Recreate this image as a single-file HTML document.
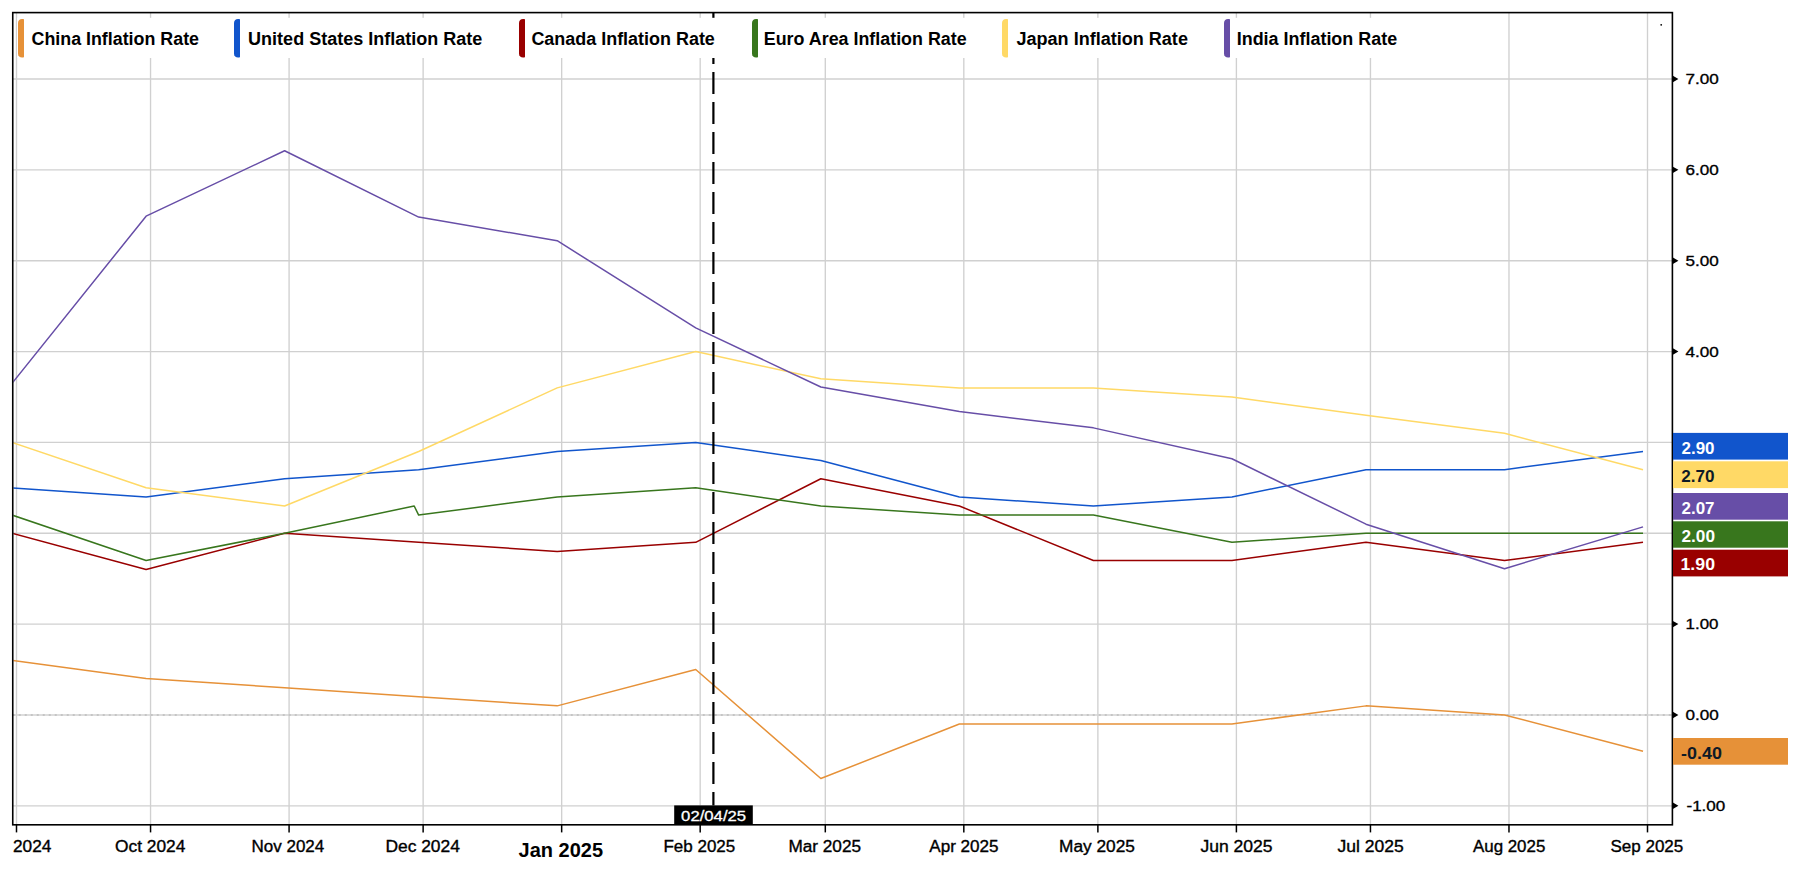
<!DOCTYPE html><html><head><meta charset="utf-8"><style>html,body{margin:0;padding:0;background:#fff;overflow:hidden;}svg{display:block;}text{font-family:"Liberation Sans",sans-serif;}</style></head><body><svg width="1800" height="877" viewBox="0 0 1800 877"><rect x="0" y="0" width="1800" height="877" fill="#fff"/><defs><clipPath id="plot"><rect x="13.4" y="13" width="1658.6" height="811.5"/></clipPath></defs><g stroke="#d0d0d0" stroke-width="1.35"><line x1="16.50" y1="12.6" x2="16.50" y2="824.8"/><line x1="150.55" y1="12.6" x2="150.55" y2="824.8"/><line x1="289.08" y1="12.6" x2="289.08" y2="824.8"/><line x1="423.13" y1="12.6" x2="423.13" y2="824.8"/><line x1="561.66" y1="12.6" x2="561.66" y2="824.8"/><line x1="700.18" y1="12.6" x2="700.18" y2="824.8"/><line x1="825.30" y1="12.6" x2="825.30" y2="824.8"/><line x1="963.82" y1="12.6" x2="963.82" y2="824.8"/><line x1="1097.88" y1="12.6" x2="1097.88" y2="824.8"/><line x1="1236.40" y1="12.6" x2="1236.40" y2="824.8"/><line x1="1370.45" y1="12.6" x2="1370.45" y2="824.8"/><line x1="1508.98" y1="12.6" x2="1508.98" y2="824.8"/><line x1="1647.50" y1="12.6" x2="1647.50" y2="824.8"/><line x1="12.75" y1="79.00" x2="1672.4" y2="79.00"/><line x1="12.75" y1="169.85" x2="1672.4" y2="169.85"/><line x1="12.75" y1="260.70" x2="1672.4" y2="260.70"/><line x1="12.75" y1="351.55" x2="1672.4" y2="351.55"/><line x1="12.75" y1="442.40" x2="1672.4" y2="442.40"/><line x1="12.75" y1="533.25" x2="1672.4" y2="533.25"/><line x1="12.75" y1="624.10" x2="1672.4" y2="624.10"/><line x1="12.75" y1="805.80" x2="1672.4" y2="805.80"/></g><line x1="12.75" y1="714.95" x2="1672.4" y2="714.95" stroke="#d2d2d2" stroke-width="1.35"/><line x1="12.75" y1="714.95" x2="1672.4" y2="714.95" stroke="#bdbdbd" stroke-width="1.35" stroke-dasharray="2,4"/><g clip-path="url(#plot)" fill="none" stroke-width="1.5" stroke-linejoin="round"><path d="M-126.49,669.53 L12.03,660.44 L146.09,678.61 L284.61,687.70 L418.66,696.78 L557.19,705.87 L695.71,669.53 L820.83,778.55 L959.35,724.04 L1093.41,724.04 L1231.93,724.04 L1365.98,705.87 L1504.51,714.95 L1643.03,751.29" stroke="#e69138"/><path d="M-126.49,451.49 L12.03,487.83 L146.09,496.91 L284.61,478.74 L418.66,469.66 L557.19,451.49 L695.71,442.40 L820.83,460.57 L959.35,496.91 L1093.41,506.00 L1231.93,496.91 L1365.98,469.66 L1504.51,469.66 L1643.03,451.49" stroke="#1155cc"/><path d="M-126.49,487.83 L12.03,533.25 L146.09,569.59 L284.61,533.25 L418.66,542.34 L557.19,551.42 L695.71,542.34 L820.83,478.74 L959.35,506.00 L1093.41,560.51 L1231.93,560.51 L1365.98,542.34 L1504.51,560.51 L1643.03,542.34" stroke="#990000"/><path d="M-126.49,478.74 L12.03,515.08 L146.09,560.51 L284.61,533.25 L414.20,506.00 L418.66,515.08 L557.19,496.91 L695.71,487.83 L820.83,506.00 L959.35,515.08 L1093.41,515.08 L1231.93,542.34 L1365.98,533.25 L1504.51,533.25 L1643.03,533.25" stroke="#38761d"/><path d="M-126.49,460.57 L12.03,442.40 L146.09,487.83 L284.61,506.00 L418.66,451.49 L557.19,387.89 L695.71,351.55 L820.83,378.81 L959.35,387.89 L1093.41,387.89 L1231.93,396.98 L1365.98,415.15 L1504.51,433.32 L1643.03,469.66" stroke="#ffd966"/><path d="M-126.49,387.89 L12.03,383.35 L146.09,216.18 L284.61,150.77 L418.66,217.09 L557.19,240.71 L695.71,327.93 L820.83,386.98 L959.35,411.51 L1093.41,427.86 L1231.93,458.75 L1365.98,524.17 L1504.51,568.68 L1643.03,526.89" stroke="#674ea7"/></g><line x1="713.4" y1="12" x2="713.4" y2="805.5" stroke="#000" stroke-width="2.2" stroke-dasharray="22,8"/><rect x="17" y="17.8" width="1395" height="40.2" fill="#fff"/><path d="M18,23 C18,20.5 19.8,19 22,19 L23.2,19 Q24,19 24,19.8 L24,56.7 Q24,57.5 23.2,57.5 L22,57.5 C19.8,57.5 18,56 18,53.5 Z" fill="#e69138"/><text x="31.50" y="45.00" font-size="18" font-weight="bold" fill="#000" textLength="167.50" lengthAdjust="spacingAndGlyphs">China Inflation Rate</text><path d="M234,23 C234,20.5 235.8,19 238,19 L239.2,19 Q240,19 240,19.8 L240,56.7 Q240,57.5 239.2,57.5 L238,57.5 C235.8,57.5 234,56 234,53.5 Z" fill="#1155cc"/><text x="248.12" y="45.00" font-size="18" font-weight="bold" fill="#000" textLength="234.18" lengthAdjust="spacingAndGlyphs">United States Inflation Rate</text><path d="M519,23 C519,20.5 520.8,19 523,19 L524.2,19 Q525,19 525,19.8 L525,56.7 Q525,57.5 524.2,57.5 L523,57.5 C520.8,57.5 519,56 519,53.5 Z" fill="#990000"/><text x="531.40" y="45.00" font-size="18" font-weight="bold" fill="#000" textLength="183.47" lengthAdjust="spacingAndGlyphs">Canada Inflation Rate</text><path d="M752,23 C752,20.5 753.8,19 756,19 L757.2,19 Q758,19 758,19.8 L758,56.7 Q758,57.5 757.2,57.5 L756,57.5 C753.8,57.5 752,56 752,53.5 Z" fill="#38761d"/><text x="763.80" y="45.00" font-size="18" font-weight="bold" fill="#000" textLength="202.81" lengthAdjust="spacingAndGlyphs">Euro Area Inflation Rate</text><path d="M1002,23 C1002,20.5 1003.8,19 1006,19 L1007.2,19 Q1008,19 1008,19.8 L1008,56.7 Q1008,57.5 1007.2,57.5 L1006,57.5 C1003.8,57.5 1002,56 1002,53.5 Z" fill="#ffd966"/><text x="1016.48" y="45.00" font-size="18" font-weight="bold" fill="#000" textLength="171.45" lengthAdjust="spacingAndGlyphs">Japan Inflation Rate</text><path d="M1224,23 C1224,20.5 1225.8,19 1228,19 L1229.2,19 Q1230,19 1230,19.8 L1230,56.7 Q1230,57.5 1229.2,57.5 L1228,57.5 C1225.8,57.5 1224,56 1224,53.5 Z" fill="#674ea7"/><text x="1236.70" y="45.00" font-size="18" font-weight="bold" fill="#000" textLength="160.46" lengthAdjust="spacingAndGlyphs">India Inflation Rate</text><circle cx="1661.2" cy="24.8" r="0.9" fill="#000"/><rect x="12.75" y="12.6" width="1659.65" height="812.20" fill="none" stroke="#000" stroke-width="1.6"/><g stroke="#000" stroke-width="1.5"><line x1="16.50" y1="824.8" x2="16.50" y2="832.4"/><line x1="150.55" y1="824.8" x2="150.55" y2="832.4"/><line x1="289.08" y1="824.8" x2="289.08" y2="832.4"/><line x1="423.13" y1="824.8" x2="423.13" y2="832.4"/><line x1="561.66" y1="824.8" x2="561.66" y2="832.4"/><line x1="700.18" y1="824.8" x2="700.18" y2="832.4"/><line x1="825.30" y1="824.8" x2="825.30" y2="832.4"/><line x1="963.82" y1="824.8" x2="963.82" y2="832.4"/><line x1="1097.88" y1="824.8" x2="1097.88" y2="832.4"/><line x1="1236.40" y1="824.8" x2="1236.40" y2="832.4"/><line x1="1370.45" y1="824.8" x2="1370.45" y2="832.4"/><line x1="1508.98" y1="824.8" x2="1508.98" y2="832.4"/><line x1="1647.50" y1="824.8" x2="1647.50" y2="832.4"/></g><rect x="674.2" y="805.4" width="78.6" height="19.4" fill="#000"/><text x="681.14" y="820.60" font-size="15" font-weight="normal" fill="#fff" stroke="#fff" stroke-width="0.3" textLength="65.00" lengthAdjust="spacingAndGlyphs">02/04/25</text><text x="13.00" y="852.00" font-size="16" font-weight="normal" fill="#000" stroke="#000" stroke-width="0.35" textLength="38.32" lengthAdjust="spacingAndGlyphs">2024</text><text x="115.00" y="852.00" font-size="16" font-weight="normal" fill="#000" stroke="#000" stroke-width="0.35" textLength="70.30" lengthAdjust="spacingAndGlyphs">Oct 2024</text><text x="251.50" y="852.00" font-size="16" font-weight="normal" fill="#000" stroke="#000" stroke-width="0.35" textLength="72.74" lengthAdjust="spacingAndGlyphs">Nov 2024</text><text x="385.42" y="852.00" font-size="16" font-weight="normal" fill="#000" stroke="#000" stroke-width="0.35" textLength="74.45" lengthAdjust="spacingAndGlyphs">Dec 2024</text><text x="518.58" y="856.70" font-size="19.5" font-weight="bold" fill="#000" textLength="84.44" lengthAdjust="spacingAndGlyphs">Jan 2025</text><text x="663.50" y="852.00" font-size="16" font-weight="normal" fill="#000" stroke="#000" stroke-width="0.35" textLength="71.73" lengthAdjust="spacingAndGlyphs">Feb 2025</text><text x="788.42" y="852.00" font-size="16" font-weight="normal" fill="#000" stroke="#000" stroke-width="0.35" textLength="72.60" lengthAdjust="spacingAndGlyphs">Mar 2025</text><text x="929.27" y="852.00" font-size="16" font-weight="normal" fill="#000" stroke="#000" stroke-width="0.35" textLength="69.33" lengthAdjust="spacingAndGlyphs">Apr 2025</text><text x="1059.00" y="852.00" font-size="16" font-weight="normal" fill="#000" stroke="#000" stroke-width="0.35" textLength="75.86" lengthAdjust="spacingAndGlyphs">May 2025</text><text x="1200.48" y="852.00" font-size="16" font-weight="normal" fill="#000" stroke="#000" stroke-width="0.35" textLength="72.16" lengthAdjust="spacingAndGlyphs">Jun 2025</text><text x="1337.48" y="852.00" font-size="16" font-weight="normal" fill="#000" stroke="#000" stroke-width="0.35" textLength="66.18" lengthAdjust="spacingAndGlyphs">Jul 2025</text><text x="1472.99" y="852.00" font-size="16" font-weight="normal" fill="#000" stroke="#000" stroke-width="0.35" textLength="72.30" lengthAdjust="spacingAndGlyphs">Aug 2025</text><text x="1610.41" y="852.00" font-size="16" font-weight="normal" fill="#000" stroke="#000" stroke-width="0.35" textLength="72.89" lengthAdjust="spacingAndGlyphs">Sep 2025</text><path d="M1672.9,75.80 L1678.4,79.00 L1672.9,82.20 Z" fill="#000"/><text x="1685.50" y="84.30" font-size="15.3" font-weight="normal" fill="#000" stroke="#000" stroke-width="0.35" textLength="33.30" lengthAdjust="spacingAndGlyphs">7.00</text><path d="M1672.9,166.65 L1678.4,169.85 L1672.9,173.05 Z" fill="#000"/><text x="1685.50" y="175.15" font-size="15.3" font-weight="normal" fill="#000" stroke="#000" stroke-width="0.35" textLength="33.30" lengthAdjust="spacingAndGlyphs">6.00</text><path d="M1672.9,257.50 L1678.4,260.70 L1672.9,263.90 Z" fill="#000"/><text x="1685.50" y="266.00" font-size="15.3" font-weight="normal" fill="#000" stroke="#000" stroke-width="0.35" textLength="33.30" lengthAdjust="spacingAndGlyphs">5.00</text><path d="M1672.9,348.35 L1678.4,351.55 L1672.9,354.75 Z" fill="#000"/><text x="1685.50" y="356.85" font-size="15.3" font-weight="normal" fill="#000" stroke="#000" stroke-width="0.35" textLength="33.30" lengthAdjust="spacingAndGlyphs">4.00</text><path d="M1672.9,620.90 L1678.4,624.10 L1672.9,627.30 Z" fill="#000"/><text x="1685.55" y="629.40" font-size="15.3" font-weight="normal" fill="#000" stroke="#000" stroke-width="0.35" textLength="32.90" lengthAdjust="spacingAndGlyphs">1.00</text><path d="M1672.9,711.75 L1678.4,714.95 L1672.9,718.15 Z" fill="#000"/><text x="1685.50" y="720.25" font-size="15.3" font-weight="normal" fill="#000" stroke="#000" stroke-width="0.35" textLength="33.30" lengthAdjust="spacingAndGlyphs">0.00</text><path d="M1672.9,802.60 L1678.4,805.80 L1672.9,809.00 Z" fill="#000"/><text x="1686.48" y="811.10" font-size="15.3" font-weight="normal" fill="#000" stroke="#000" stroke-width="0.35" textLength="38.82" lengthAdjust="spacingAndGlyphs">-1.00</text><rect x="1673" y="432.9" width="115" height="26.7" fill="#1155cc"/><text x="1681.50" y="453.60" font-size="16.5" font-weight="bold" fill="#fff" textLength="33.01" lengthAdjust="spacingAndGlyphs">2.90</text><rect x="1673" y="461.3" width="115" height="26.8" fill="#ffd966"/><text x="1681.27" y="482.00" font-size="16.5" font-weight="bold" fill="#0d1a26" textLength="33.31" lengthAdjust="spacingAndGlyphs">2.70</text><rect x="1673" y="493.0" width="115" height="26.7" fill="#674ea7"/><text x="1681.50" y="513.70" font-size="16.5" font-weight="bold" fill="#fff" textLength="33.01" lengthAdjust="spacingAndGlyphs">2.07</text><rect x="1673" y="521.3" width="115" height="26.4" fill="#38761d"/><text x="1681.50" y="542.00" font-size="16.5" font-weight="bold" fill="#fff" textLength="33.50" lengthAdjust="spacingAndGlyphs">2.00</text><rect x="1673" y="549.7" width="115" height="26.7" fill="#990000"/><text x="1680.50" y="570.40" font-size="16.5" font-weight="bold" fill="#fff" textLength="34.52" lengthAdjust="spacingAndGlyphs">1.90</text><rect x="1673" y="738.0" width="115" height="26.7" fill="#e69138"/><text x="1681.10" y="758.70" font-size="16.5" font-weight="bold" fill="#0d1a26" textLength="40.80" lengthAdjust="spacingAndGlyphs">-0.40</text></svg></body></html>
